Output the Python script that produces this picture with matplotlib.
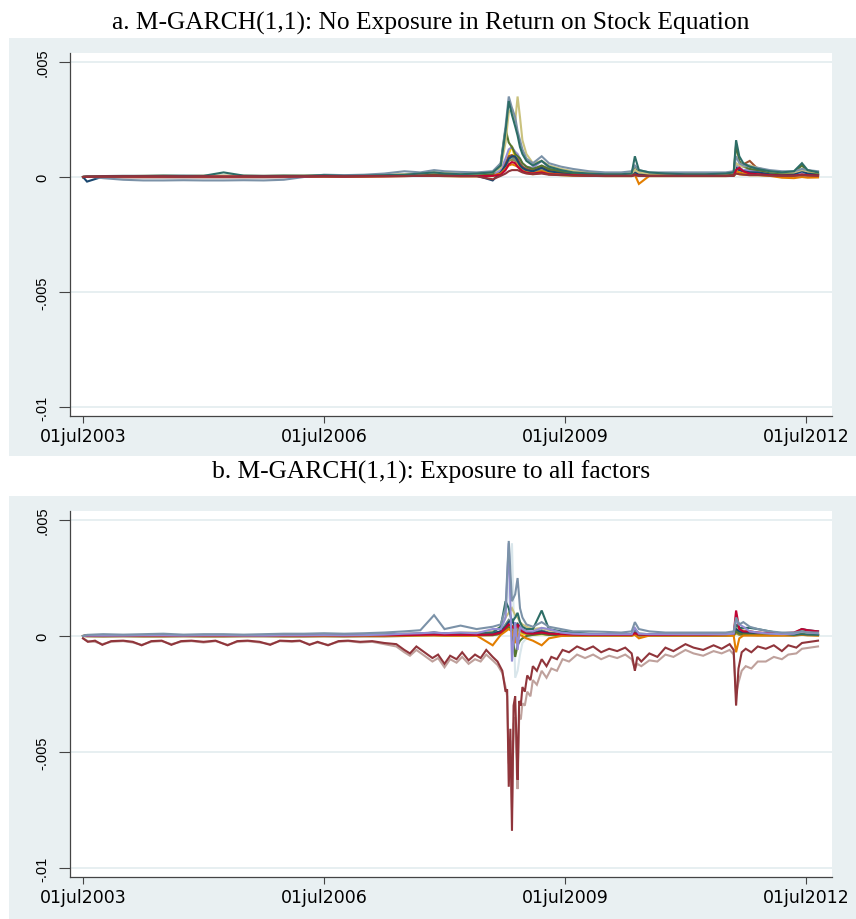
import matplotlib
matplotlib.use("Agg")
import matplotlib.pyplot as plt
from matplotlib.patches import Rectangle

# ---------------- data (values in units of 1e-3) ----------------
UNIT = 1e-3
T = [2003.50, 2003.55, 2003.75, 2004.00, 2004.25, 2004.50, 2004.75, 2005.00, 2005.25, 2005.50,
     2005.75, 2006.00, 2006.25, 2006.50, 2006.75, 2007.00, 2007.25, 2007.50, 2007.70, 2007.87,
     2008.00, 2008.20, 2008.40, 2008.60, 2008.70, 2008.76, 2008.80, 2008.84, 2008.88, 2008.91,
     2008.94, 2008.97, 2009.02, 2009.10, 2009.21, 2009.30, 2009.45, 2009.60, 2009.80, 2010.00,
     2010.20, 2010.33, 2010.37, 2010.42, 2010.55, 2010.75, 2011.00, 2011.25, 2011.50, 2011.60,
     2011.63, 2011.67, 2011.72, 2011.80, 2011.90, 2012.05, 2012.20, 2012.35, 2012.45, 2012.52,
     2012.65]

# denser dates for the two negative series of panel b
T_m = [2003.50, 2003.56, 2003.65, 2003.74, 2003.85, 2004.00, 2004.12, 2004.23, 2004.35, 2004.48,
       2004.60, 2004.72, 2004.85, 2005.00, 2005.15, 2005.30, 2005.42, 2005.55, 2005.70, 2005.83,
       2005.95, 2006.10, 2006.20, 2006.32, 2006.42, 2006.55, 2006.68, 2006.80, 2006.95, 2007.10,
       2007.25, 2007.40, 2007.50, 2007.57, 2007.65, 2007.75, 2007.85, 2007.92, 2008.00, 2008.07,
       2008.15, 2008.22, 2008.30, 2008.38, 2008.45, 2008.52, 2008.60, 2008.66, 2008.72, 2008.76,
       2008.78, 2008.80, 2008.82, 2008.84, 2008.86, 2008.88, 2008.90, 2008.91, 2008.93, 2008.95,
       2008.97, 2009.00, 2009.03, 2009.07, 2009.10, 2009.15, 2009.21, 2009.27, 2009.33, 2009.40,
       2009.47, 2009.55, 2009.65, 2009.75, 2009.85, 2009.95, 2010.05, 2010.15, 2010.25, 2010.33,
       2010.37, 2010.40, 2010.45, 2010.55, 2010.65, 2010.75, 2010.85, 2011.00, 2011.10, 2011.22,
       2011.35, 2011.45, 2011.55, 2011.60, 2011.63, 2011.66, 2011.70, 2011.75, 2011.82, 2011.90,
       2012.00, 2012.10, 2012.20, 2012.28, 2012.38, 2012.45, 2012.55, 2012.65]

xtick_pos = [2003.5, 2006.5, 2009.5, 2012.5]
xtick_labels = ["01jul2003", "01jul2006", "01jul2009", "01jul2012"]
ytick_pos = [0.005, 0.0, -0.005, -0.01]
ytick_labels = [".005", "0", "-.005", "-.01"]
title_a = "a. M-GARCH(1,1): No Exposure in Return on Stock Equation"
title_b = "b. M-GARCH(1,1): Exposure to all factors"

# Panel a
a_bluishgray = [0.00, 0.01, 0.02, 0.02, 0.02, 0.02, 0.02, 0.02, 0.02, 0.02,
                0.02, 0.02, 0.02, 0.03, 0.02, 0.03, 0.04, 0.05, 0.06, 0.08,
                0.06, 0.05, 0.05, 0.06, 0.15, 0.40, 0.70, 0.80, 0.70, 0.60,
                0.45, 0.30, 0.20, 0.15, 0.25, 0.15, 0.10, 0.08, 0.06, 0.05,
                0.05, 0.05, 0.12, 0.06, 0.05, 0.05, 0.05, 0.05, 0.05, 0.06,
                0.25, 0.20, 0.15, 0.12, 0.10, 0.06, 0.05, 0.05, 0.08, 0.06, 0.05]
a_gold = [0.00, 0.01, 0.01, 0.02, 0.02, 0.02, 0.01, 0.02, 0.02, 0.02,
          0.01, 0.02, 0.02, 0.02, 0.02, 0.02, 0.03, 0.04, 0.05, 0.05,
          0.04, 0.03, 0.03, 0.04, 0.10, 0.40, 1.00, 1.35, 0.80, 0.60,
          0.40, 0.25, 0.18, 0.12, 0.18, 0.12, 0.08, 0.06, 0.05, 0.04,
          0.04, 0.04, 0.08, 0.05, 0.04, 0.04, 0.04, 0.04, 0.04, 0.05,
          0.15, 0.12, 0.10, 0.08, 0.08, 0.06, 0.05, 0.05, 0.08, 0.06, 0.05]
a_erose = [0.00, 0.01, -0.02, -0.03, -0.03, -0.03, -0.03, -0.03, -0.03, -0.03,
           -0.03, -0.02, 0.02, 0.03, 0.03, 0.04, 0.05, 0.06, 0.08, 0.10,
           0.08, 0.06, 0.06, 0.08, 0.25, 0.60, 0.90, 0.95, 0.80, 0.75,
           0.60, 0.45, 0.35, 0.30, 0.45, 0.30, 0.20, 0.15, 0.10, 0.08,
           0.08, 0.08, 0.20, 0.10, 0.08, 0.08, 0.08, 0.08, 0.08, 0.10,
           0.30, 0.40, 0.55, 0.50, 0.30, 0.12, 0.10, 0.10, 0.15, 0.12, 0.10]
a_brown = [0.00, 0.02, 0.02, 0.03, 0.03, 0.03, 0.03, 0.03, 0.03, 0.03,
           0.03, 0.03, 0.03, 0.04, 0.03, 0.04, 0.05, 0.06, 0.08, 0.10,
           0.08, 0.06, 0.06, 0.08, 0.20, 0.50, 0.70, 0.75, 0.70, 0.65,
           0.50, 0.35, 0.25, 0.20, 0.30, 0.20, 0.15, 0.10, 0.08, 0.06,
           0.06, 0.06, 0.15, 0.08, 0.06, 0.06, 0.06, 0.06, 0.06, 0.08,
           0.35, 0.30, 0.25, 0.25, 0.20, 0.10, 0.08, 0.08, 0.15, 0.10, 0.08]
a_teal = [0.00, 0.02, 0.03, 0.03, 0.04, 0.04, 0.03, 0.04, 0.04, 0.04,
          0.03, 0.04, 0.04, 0.05, 0.04, 0.05, 0.06, 0.08, 0.10, 0.12,
          0.10, 0.08, 0.08, 0.10, 0.25, 0.60, 0.80, 0.85, 0.75, 0.70,
          0.55, 0.40, 0.30, 0.25, 0.40, 0.25, 0.18, 0.12, 0.10, 0.08,
          0.08, 0.08, 0.25, 0.10, 0.08, 0.08, 0.08, 0.08, 0.08, 0.10,
          0.50, 0.35, 0.30, 0.25, 0.22, 0.12, 0.10, 0.12, 0.25, 0.15, 0.10]
a_sienna = [0.00, 0.01, 0.02, 0.02, 0.03, 0.03, 0.02, 0.03, 0.03, 0.03,
            0.02, 0.03, 0.03, 0.04, 0.03, 0.04, 0.05, 0.06, 0.08, 0.10,
            0.08, 0.06, 0.06, 0.08, 0.20, 0.60, 0.90, 0.95, 0.85, 0.80,
            0.60, 0.45, 0.35, 0.30, 0.45, 0.30, 0.20, 0.15, 0.10, 0.08,
            0.08, 0.08, 0.20, 0.10, 0.08, 0.08, 0.08, 0.08, 0.08, 0.10,
            0.40, 0.50, 0.55, 0.70, 0.35, 0.15, 0.10, 0.10, 0.15, 0.12, 0.10]
a_lavender = [0.00, 0.02, 0.03, 0.03, 0.04, 0.04, 0.03, 0.04, 0.04, 0.04,
              0.03, 0.04, 0.04, 0.05, 0.04, 0.05, 0.06, 0.08, 0.10, 0.12,
              0.10, 0.08, 0.08, 0.10, 0.30, 0.80, 1.20, 1.30, 1.10, 1.00,
              0.80, 0.60, 0.45, 0.40, 0.70, 0.40, 0.30, 0.20, 0.15, 0.12,
              0.10, 0.10, 0.30, 0.15, 0.10, 0.10, 0.10, 0.10, 0.10, 0.12,
              0.50, 0.40, 0.30, 0.30, 0.25, 0.15, 0.12, 0.12, 0.20, 0.15, 0.12]
a_navy = [0.00, -0.20, 0.02, 0.03, 0.04, 0.04, 0.03, 0.04, 0.04, 0.04,
          0.03, 0.04, 0.05, 0.05, 0.04, 0.05, 0.06, 0.08, 0.10, 0.12,
          0.08, 0.06, 0.06, -0.15, 0.20, 0.50, 0.80, 0.90, 0.90, 0.70,
          0.50, 0.40, 0.30, 0.25, 0.40, 0.25, 0.18, 0.12, 0.10, 0.08,
          0.08, 0.08, 0.20, 0.10, 0.08, 0.08, 0.08, 0.08, 0.08, 0.10,
          0.40, 0.30, 0.25, 0.20, 0.20, 0.12, 0.10, 0.12, 0.25, 0.15, 0.10]
a_dkorange = [0.00, 0.01, 0.02, 0.02, 0.02, 0.03, 0.02, 0.02, 0.03, 0.02,
              0.02, 0.03, 0.03, 0.03, 0.03, 0.03, 0.04, 0.05, 0.06, 0.08,
              0.06, 0.05, 0.05, 0.06, 0.15, 0.35, 0.50, 0.55, 0.50, 0.45,
              0.35, 0.25, 0.20, 0.15, 0.25, 0.15, 0.10, 0.08, 0.06, 0.05,
              0.05, 0.05, 0.10, -0.30, 0.05, 0.05, 0.05, 0.05, 0.05, 0.06,
              0.25, 0.20, 0.15, 0.12, 0.10, 0.05, -0.03, -0.05, 0.00, -0.03, -0.02]
a_forest = [0.00, 0.02, 0.03, 0.04, 0.04, 0.05, 0.04, 0.05, 0.05, 0.05,
            0.04, 0.05, 0.05, 0.06, 0.05, 0.06, 0.07, 0.08, 0.10, 0.12,
            0.10, 0.10, 0.10, 0.12, 0.60, 2.10, 1.50, 1.30, 1.00, 0.90,
            0.80, 0.60, 0.45, 0.35, 0.50, 0.35, 0.25, 0.18, 0.12, 0.10,
            0.10, 0.12, 0.50, 0.20, 0.12, 0.10, 0.10, 0.10, 0.12, 0.15,
            1.40, 0.70, 0.45, 0.35, 0.30, 0.20, 0.15, 0.20, 0.50, 0.25, 0.15]
a_khaki = [0.00, 0.02, 0.03, 0.03, 0.05, 0.05, 0.04, 0.05, 0.06, 0.05,
           0.05, 0.06, 0.06, 0.06, 0.06, 0.08, 0.10, 0.12, 0.15, 0.20,
           0.18, 0.15, 0.15, 0.20, 0.40, 1.50, 2.80, 3.00, 2.40, 3.50,
           2.60, 1.60, 1.00, 0.60, 0.70, 0.50, 0.35, 0.25, 0.20, 0.15,
           0.15, 0.15, 0.30, 0.20, 0.15, 0.15, 0.15, 0.15, 0.15, 0.20,
           0.60, 0.50, 0.45, 0.50, 0.40, 0.25, 0.20, 0.20, 0.30, 0.25, 0.20]
a_emidblue = [0.00, 0.03, -0.05, -0.12, -0.15, -0.15, -0.14, -0.15, -0.15, -0.14,
              -0.15, -0.12, 0.00, 0.10, 0.08, 0.10, 0.15, 0.25, 0.20, 0.30,
              0.25, 0.22, 0.20, 0.25, 0.60, 2.20, 3.50, 3.00, 2.60, 2.00,
              1.60, 1.20, 0.80, 0.60, 0.90, 0.60, 0.45, 0.35, 0.25, 0.20,
              0.20, 0.25, 0.50, 0.30, 0.20, 0.20, 0.20, 0.20, 0.20, 0.25,
              0.90, 0.60, 0.50, 0.45, 0.40, 0.30, 0.25, 0.25, 0.35, 0.30, 0.25]
a_emerald = [0.00, 0.02, 0.04, 0.05, 0.05, 0.06, 0.06, 0.05, 0.20, 0.06,
             0.05, 0.06, 0.05, 0.08, 0.05, 0.06, 0.08, 0.10, 0.15, 0.20,
             0.15, 0.12, 0.15, 0.20, 0.50, 2.00, 3.30, 2.70, 2.20, 1.80,
             1.30, 1.00, 0.70, 0.50, 0.70, 0.45, 0.30, 0.20, 0.15, 0.12,
             0.12, 0.15, 0.90, 0.30, 0.20, 0.15, 0.12, 0.12, 0.15, 0.20,
             1.60, 0.90, 0.60, 0.45, 0.35, 0.25, 0.20, 0.25, 0.60, 0.30, 0.20]
a_cranberry = [0.00, 0.01, 0.02, 0.02, 0.02, 0.02, 0.02, 0.02, 0.02, 0.02,
               0.02, 0.02, 0.02, 0.03, 0.02, 0.03, 0.03, 0.04, 0.05, 0.06,
               0.05, 0.04, 0.04, 0.05, 0.10, 0.30, 0.55, 0.65, 0.60, 0.45,
               0.35, 0.25, 0.18, 0.15, 0.20, 0.12, 0.10, 0.08, 0.06, 0.05,
               0.05, 0.05, 0.10, 0.06, 0.05, 0.05, 0.05, 0.05, 0.05, 0.06,
               0.30, 0.40, 0.25, 0.15, 0.12, 0.08, 0.06, 0.06, 0.10, 0.08, 0.06]
a_maroon = [0.00, 0.01, 0.01, 0.02, 0.02, 0.02, 0.01, 0.02, 0.02, 0.02,
            0.01, 0.02, 0.02, 0.02, 0.02, 0.02, 0.03, 0.04, 0.05, 0.05,
            0.04, 0.03, 0.03, -0.10, 0.05, 0.15, 0.25, 0.30, 0.30, 0.30,
            0.25, 0.20, 0.15, 0.12, 0.15, 0.10, 0.08, 0.06, 0.05, 0.04,
            0.04, 0.04, 0.08, 0.05, 0.04, 0.04, 0.04, 0.04, 0.04, 0.05,
            0.15, 0.12, 0.10, 0.08, 0.08, 0.06, 0.05, 0.05, 0.08, 0.06, 0.05]

# Panel b
b_bluishgray = [0.00, 0.01, 0.01, 0.01, 0.01, 0.01, 0.01, 0.01, 0.01, 0.01,
                0.01, 0.01, 0.01, 0.02, 0.01, 0.02, 0.02, 0.03, 0.03, 0.04,
                0.03, 0.03, 0.03, 0.04, 0.20, 0.80, 2.00, 4.00, -1.80, -1.50,
                -0.80, -0.30, -0.10, 0.00, 0.05, 0.03, 0.02, 0.02, 0.02, 0.02,
                0.02, 0.02, 0.05, 0.02, 0.02, 0.02, 0.02, 0.02, 0.02, 0.03,
                0.10, 0.05, 0.04, 0.04, 0.03, 0.03, 0.03, 0.03, 0.05, 0.04, 0.03]
b_gold = [0.00, 0.01, 0.01, 0.01, 0.01, 0.01, 0.01, 0.01, 0.01, 0.01,
          0.01, 0.01, 0.01, 0.02, 0.01, 0.02, 0.02, 0.03, 0.03, 0.04,
          0.03, 0.03, 0.03, 0.04, 0.10, 0.25, 0.35, 0.30, 0.25, 0.20,
          0.15, 0.10, 0.06, 0.05, 0.08, 0.05, 0.03, 0.03, 0.02, 0.02,
          0.02, 0.02, 0.05, 0.03, 0.02, 0.02, 0.02, 0.02, 0.02, 0.03,
          0.10, 0.06, 0.05, 0.05, 0.04, 0.04, 0.04, 0.10, 0.30, 0.15, 0.05]
b_sienna = [0.00, 0.01, 0.02, 0.02, 0.02, 0.02, 0.02, 0.02, 0.02, 0.02,
            0.02, 0.02, 0.02, 0.03, 0.02, 0.03, 0.04, 0.05, 0.06, 0.08,
            0.06, 0.06, 0.06, 0.08, 0.20, 0.40, 0.50, 0.45, 0.40, 0.35,
            0.25, 0.18, 0.12, 0.10, 0.15, 0.10, 0.06, 0.05, 0.04, 0.04,
            0.04, 0.04, 0.10, 0.05, 0.04, 0.04, 0.04, 0.04, 0.04, 0.05,
            0.20, 0.15, 0.12, 0.10, 0.08, 0.06, 0.05, 0.05, 0.08, 0.06, 0.05]
b_teal = [0.00, 0.02, 0.02, 0.02, 0.03, 0.03, 0.02, 0.03, 0.03, 0.02,
          0.02, 0.03, 0.03, 0.04, 0.03, 0.04, 0.05, 0.06, 0.08, 0.10,
          0.08, 0.08, 0.08, 0.10, 0.20, 0.50, 0.70, 0.60, 0.50, 0.55,
          0.40, 0.30, 0.20, 0.15, 0.25, 0.15, 0.10, 0.08, 0.06, 0.05,
          0.05, 0.05, 0.20, 0.08, 0.05, 0.05, 0.05, 0.05, 0.05, 0.06,
          0.30, 0.20, 0.15, 0.12, 0.10, 0.08, 0.06, 0.06, 0.10, 0.08, 0.06]
b_khaki = [0.00, 0.02, 0.03, 0.02, 0.03, 0.03, 0.02, 0.03, 0.03, 0.02,
           0.02, 0.03, 0.03, 0.04, 0.03, 0.05, 0.06, 0.10, 0.12, 0.15,
           0.12, 0.15, 0.15, 0.20, 0.40, 0.80, 1.00, 1.20, 0.90, 0.80,
           0.60, 0.50, 0.40, 0.30, 0.35, 0.25, 0.15, 0.10, 0.08, 0.08,
           0.08, 0.08, 0.25, 0.10, 0.08, 0.08, 0.08, 0.08, 0.08, 0.10,
           0.40, 0.30, 0.25, 0.20, 0.15, 0.10, 0.08, 0.08, 0.15, 0.12, 0.10]
b_brown = [0.00, -0.02, -0.03, -0.02, -0.03, -0.03, -0.02, -0.03, -0.03, -0.02,
           -0.02, -0.03, -0.03, -0.02, -0.03, -0.02, -0.02, 0.00, 0.02, 0.03,
           0.02, 0.02, 0.02, 0.03, 0.10, 0.30, 0.50, 0.40, -0.30, 0.30,
           0.25, 0.15, 0.10, 0.08, 0.10, 0.05, 0.03, 0.02, 0.02, 0.02,
           0.02, 0.02, 0.08, 0.02, 0.02, 0.02, 0.02, 0.02, 0.02, 0.03,
           0.15, 0.05, 0.04, 0.04, 0.03, 0.03, 0.03, 0.03, 0.05, 0.04, 0.03]
b_navy = [0.00, 0.02, 0.03, 0.02, 0.03, 0.03, 0.02, 0.03, 0.03, 0.02,
          0.02, 0.03, 0.03, 0.04, 0.03, 0.04, 0.05, 0.08, 0.10, 0.15,
          0.10, 0.12, 0.10, 0.12, 0.20, 0.40, 0.60, 0.70, 0.40, 0.50,
          0.35, 0.25, 0.15, 0.12, 0.20, 0.12, 0.08, 0.06, 0.05, 0.05,
          0.05, 0.05, 0.15, 0.06, 0.05, 0.05, 0.05, 0.05, 0.05, 0.06,
          0.30, 0.20, 0.15, 0.12, 0.10, 0.08, 0.08, 0.10, 0.30, 0.25, 0.20]
b_forest = [0.00, 0.01, 0.02, 0.02, 0.02, 0.02, 0.02, 0.02, 0.02, 0.02,
            0.02, 0.02, 0.02, 0.03, 0.02, 0.03, 0.03, 0.04, 0.05, 0.06,
            0.05, 0.05, 0.05, 0.05, 0.10, 0.30, 0.40, 0.20, -0.90, -0.40,
            -0.20, -0.10, 0.00, 0.05, 0.10, 0.05, 0.03, 0.03, 0.03, 0.03,
            0.03, 0.03, 0.10, 0.03, 0.03, 0.03, 0.03, 0.03, 0.03, 0.04,
            0.20, 0.10, 0.08, 0.06, 0.05, 0.04, 0.04, 0.04, 0.06, 0.05, 0.04]
b_dkorange = [0.00, 0.01, 0.01, 0.01, 0.01, 0.01, 0.01, 0.01, 0.01, 0.01,
              0.01, 0.01, 0.01, 0.02, 0.01, 0.02, 0.02, 0.02, 0.03, 0.03,
              0.02, 0.02, 0.02, -0.40, 0.05, 0.20, 0.30, 0.20, -0.30, 0.10,
              0.05, 0.00, -0.10, -0.20, -0.40, -0.10, 0.00, 0.02, 0.02, 0.02,
              0.02, 0.02, 0.05, -0.10, 0.02, 0.02, 0.02, 0.02, 0.02, 0.02,
              -0.70, -0.10, 0.02, 0.02, 0.02, 0.02, 0.02, 0.02, 0.05, 0.03, 0.02]
b_emerald = [0.00, 0.02, 0.03, 0.03, 0.04, 0.04, 0.03, 0.04, 0.04, 0.04,
             0.03, 0.04, 0.04, 0.05, 0.04, 0.05, 0.06, 0.08, 0.10, 0.12,
             0.10, 0.10, 0.10, 0.15, 0.40, 1.50, 1.20, 0.60, 0.80, 1.00,
             0.60, 0.40, 0.30, 0.30, 1.10, 0.30, 0.20, 0.15, 0.10, 0.08,
             0.08, 0.08, 0.30, 0.10, 0.08, 0.08, 0.08, 0.08, 0.08, 0.10,
             0.50, 0.35, 0.35, 0.35, 0.30, 0.20, 0.10, 0.05, 0.08, 0.06, 0.05]
b_cranberry = [0.00, 0.01, 0.02, 0.02, 0.02, 0.02, 0.02, 0.02, 0.02, 0.02,
               0.02, 0.02, 0.02, 0.03, 0.02, 0.03, 0.03, 0.04, 0.05, 0.06,
               0.05, 0.05, 0.05, 0.06, 0.15, 0.35, 0.50, 0.40, 0.30, 0.50,
               0.30, 0.20, 0.12, 0.10, 0.15, 0.10, 0.08, 0.06, 0.05, 0.05,
               0.05, 0.05, 0.12, 0.06, 0.05, 0.05, 0.06, 0.06, 0.08, 0.10,
               1.10, 0.30, 0.20, 0.20, 0.15, 0.12, 0.12, 0.15, 0.30, 0.25, 0.20]
b_lavender = [0.00, 0.02, 0.02, 0.02, 0.03, 0.03, 0.02, 0.03, 0.03, 0.02,
              0.02, 0.03, 0.03, 0.04, 0.03, 0.04, 0.06, 0.10, 0.12, 0.15,
              0.12, 0.15, 0.12, 0.30, 0.30, 0.80, 4.00, -1.10, 0.60, -0.60,
              0.40, 0.30, 0.20, 0.20, 0.35, 0.30, 0.15, 0.10, 0.08, 0.08,
              0.08, 0.08, 0.35, 0.10, 0.08, 0.08, 0.08, 0.08, 0.08, 0.10,
              0.70, 0.50, 0.40, 0.20, 0.15, 0.10, 0.08, 0.10, 0.20, 0.15, 0.12]
b_emidblue = [0.00, 0.05, 0.08, 0.06, 0.08, 0.10, 0.06, 0.08, 0.08, 0.06,
              0.08, 0.10, 0.10, 0.12, 0.10, 0.12, 0.15, 0.20, 0.25, 0.90,
              0.30, 0.45, 0.30, 0.40, 0.50, 1.20, 4.10, 1.50, 1.80, 2.50,
              1.20, 0.80, 0.50, 0.40, 0.60, 0.40, 0.30, 0.20, 0.20, 0.18,
              0.15, 0.20, 0.60, 0.30, 0.20, 0.15, 0.15, 0.15, 0.15, 0.20,
              0.80, 0.50, 0.60, 0.40, 0.30, 0.20, 0.15, 0.15, 0.20, 0.15, 0.15]
# on T_m
b_erose = [-0.10, -0.22, -0.25, -0.35, -0.25, -0.22, -0.28, -0.38, -0.25, -0.22,
           -0.35, -0.25, -0.22, -0.28, -0.22, -0.38, -0.25, -0.22, -0.28, -0.35,
           -0.22, -0.25, -0.22, -0.35, -0.28, -0.38, -0.25, -0.22, -0.28, -0.25,
           -0.35, -0.45, -0.70, -0.85, -0.60, -0.85, -1.10, -0.95, -1.35, -1.00,
           -1.15, -0.90, -1.20, -1.00, -1.10, -0.80, -1.05, -1.25, -1.60, -2.20,
           -2.60, -5.50, -4.50, -7.50, -3.80, -3.50, -5.80, -6.60, -3.40, -3.60,
           -2.90, -3.00, -2.40, -2.60, -1.90, -2.10, -1.50, -1.80, -1.40, -1.50,
           -1.00, -1.10, -0.80, -0.95, -0.80, -1.00, -0.85, -0.95, -0.80, -1.00,
           -1.40, -1.20, -1.30, -1.05, -1.10, -0.80, -0.90, -0.60, -0.75, -0.85,
           -0.65, -0.75, -0.60, -0.80, -2.50, -2.00, -1.50, -1.30, -1.40, -1.10,
           -1.10, -0.90, -1.00, -0.80, -0.75, -0.55, -0.50, -0.45]
b_maroon = [-0.10, -0.25, -0.20, -0.38, -0.22, -0.20, -0.25, -0.40, -0.22, -0.20,
            -0.38, -0.22, -0.20, -0.25, -0.20, -0.40, -0.22, -0.20, -0.25, -0.38,
            -0.20, -0.22, -0.20, -0.38, -0.25, -0.40, -0.22, -0.20, -0.25, -0.22,
            -0.30, -0.35, -0.60, -0.75, -0.45, -0.70, -0.95, -0.80, -1.20, -0.85,
            -1.00, -0.70, -1.05, -0.80, -0.95, -0.60, -0.90, -1.10, -1.50, -2.40,
            -2.30, -6.50, -4.00, -8.40, -3.00, -2.60, -5.00, -6.20, -2.80, -3.00,
            -2.20, -2.40, -1.70, -1.90, -1.30, -1.50, -1.00, -1.30, -0.90, -1.00,
            -0.60, -0.70, -0.45, -0.60, -0.45, -0.70, -0.55, -0.65, -0.50, -0.75,
            -1.50, -0.90, -1.10, -0.75, -0.90, -0.50, -0.65, -0.35, -0.50, -0.60,
            -0.40, -0.55, -0.35, -0.60, -3.00, -1.40, -0.70, -0.55, -0.70, -0.45,
            -0.55, -0.40, -0.65, -0.40, -0.50, -0.30, -0.25, -0.20]

# ---------------- style ----------------
C = {
    "navy": "#1a476f", "maroon": "#90353b", "forest": "#55752f", "dkorange": "#e37e00",
    "teal": "#6e8e84", "cranberry": "#c10534", "lavender": "#938dd2", "khaki": "#cac27e",
    "sienna": "#a0522d", "emidblue": "#7b92a8", "emerald": "#2d6d66", "brown": "#9c8847",
    "erose": "#bfa19c", "gold": "#ffd200", "bluishgray": "#d9e6eb",
}
series_a = [(T, a_bluishgray, "bluishgray"), (T, a_gold, "gold"), (T, a_erose, "erose"),
            (T, a_brown, "brown"), (T, a_teal, "teal"), (T, a_sienna, "sienna"),
            (T, a_lavender, "lavender"), (T, a_navy, "navy"), (T, a_dkorange, "dkorange"),
            (T, a_forest, "forest"), (T, a_khaki, "khaki"), (T, a_emidblue, "emidblue"),
            (T, a_emerald, "emerald"), (T, a_cranberry, "cranberry"), (T, a_maroon, "maroon")]
series_b = [(T, b_bluishgray, "bluishgray"), (T, b_gold, "gold"), (T, b_sienna, "sienna"),
            (T, b_teal, "teal"), (T, b_khaki, "khaki"), (T, b_brown, "brown"),
            (T, b_navy, "navy"), (T, b_forest, "forest"), (T, b_dkorange, "dkorange"),
            (T, b_emerald, "emerald"), (T, b_cranberry, "cranberry"),
            (T, b_lavender, "lavender"), (T, b_emidblue, "emidblue"),
            (T_m, b_erose, "erose"), (T_m, b_maroon, "maroon")]

W, H = 856, 920
BG = "#e9f0f2"
GRID = "#e3ecef"
AX = "#444444"

fig = plt.figure(figsize=(W / 100, H / 100), dpi=100)
fig.patch.set_facecolor("white")


def box(x0, y0, x1, y1):
    return [x0 / W, 1 - y1 / H, (x1 - x0) / W, (y1 - y0) / H]


for (y0, y1) in [(39, 457), (497, 920)]:
    fig.add_artist(Rectangle((9 / W, 1 - y1 / H), (W - 9) / W, (y1 - y0) / H,
                             transform=fig.transFigure, facecolor=BG,
                             edgecolor="none", zorder=0))


def make_axes(rect, series):
    ax = fig.add_axes(rect)
    ax.set_facecolor("white")
    for xs, vals, cname in series:
        ax.plot(xs, [v * UNIT for v in vals], color=C[cname], lw=1.5,
                solid_joinstyle="miter")
    ax.set_xlim(2003.338, 2012.824)
    ax.set_ylim(-0.010391, 0.005391)
    ax.set_yticks(ytick_pos)
    ax.set_yticklabels(ytick_labels, rotation=90, va="center",
                       family="Liberation Sans", fontsize=10.5)
    ax.set_xticks(xtick_pos)
    ax.set_xticklabels(xtick_labels, family="DejaVu Sans", fontsize=12.5)
    ax.tick_params(axis="y", length=8, width=0.8, color=AX, pad=6.5, labelcolor="black")
    ax.tick_params(axis="x", length=5, width=0.8, color=AX, pad=3, labelcolor="black")
    ax.yaxis.grid(True, color=GRID, lw=1.2)
    ax.set_axisbelow(True)
    for s in ["top", "right"]:
        ax.spines[s].set_visible(False)
    for s in ["left", "bottom"]:
        ax.spines[s].set_color(AX)
        ax.spines[s].set_linewidth(0.9)
    return ax


make_axes(box(70, 54, 832, 417), series_a)
make_axes(box(70, 512, 832, 878), series_b)

ta = fig.text(431 / W, 1 - 30 / H, title_a, ha="center", va="baseline",
              family="Liberation Serif", fontsize=16)
tb = fig.text(431 / W, 1 - 479 / H, title_b, ha="center", va="baseline",
              family="Liberation Serif", fontsize=16)
fig.canvas.draw()
wa = ta.get_window_extent().width
tgt = 638.0
fs = 16 * tgt / wa
ta.set_fontsize(fs)
tb.set_fontsize(fs)

fig.savefig("out.png", dpi=100)
